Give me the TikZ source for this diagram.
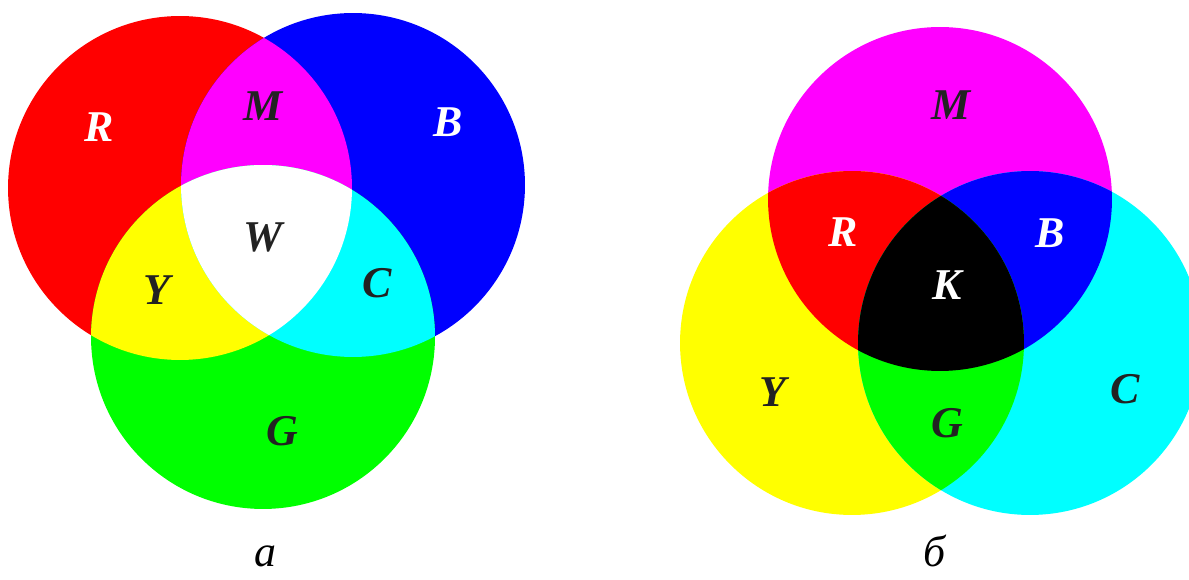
\documentclass[tikz,border=0pt]{standalone}
\usepackage{fontspec}
\setmainfont{Liberation Serif}
\usepackage{xcolor}
\usepackage{tikz}
\usetikzlibrary{positioning}
\definecolor{cRed}{RGB}{255,0,0}
\definecolor{cGreen}{RGB}{0,255,0}
\definecolor{cBlue}{RGB}{0,0,255}
\definecolor{cCyan}{RGB}{0,255,255}
\definecolor{cMagenta}{RGB}{255,0,255}
\definecolor{cYellow}{RGB}{255,255,0}
\definecolor{cDark}{RGB}{34,34,34}
\tikzset{
	lbl/.style={font=\fontsize{25}{30}\selectfont\bfseries\itshape, text=cDark, anchor=base, inner sep=0pt},
	lblw/.style={lbl, text=white},
	capt/.style={font=\fontsize{25}{30}\selectfont\itshape, text=black, anchor=base, inner sep=0pt}
}

\begin{document}
\begin{tikzpicture}[x=0.02cm, y=-0.02cm]
		\useasboundingbox (0,0) rectangle (1189,580);
		\def\rr{3.44cm}
		\coordinate (Rc) at (180,188);
		\coordinate (Bc) at (353,185);
		\coordinate (Gc) at (263,337);
		\coordinate (Mc) at (940,199);
		\coordinate (Yc) at (852,343);
		\coordinate (Cc) at (1030,343);
		% 加色混合 (a)
		\fill[cRed] (Rc) circle (\rr);
		\fill[cBlue] (Bc) circle (\rr);
		\fill[cGreen] (Gc) circle (\rr);
		\begin{scope}
			\clip (Rc) circle (\rr);
			\fill[cMagenta] (Bc) circle (\rr);
			\fill[cYellow] (Gc) circle (\rr);
		\end{scope}
		\begin{scope}
			\clip (Bc) circle (\rr);
			\fill[cCyan] (Gc) circle (\rr);
		\end{scope}
		\begin{scope}
			\clip (Rc) circle (\rr);
			\clip (Bc) circle (\rr);
			\fill[white] (Gc) circle (\rr);
		\end{scope}
		% 减色混合 (б)
		\fill[cMagenta] (Mc) circle (\rr);
		\fill[cYellow] (Yc) circle (\rr);
		\fill[cCyan] (Cc) circle (\rr);
		\begin{scope}
			\clip (Mc) circle (\rr);
			\fill[cRed] (Yc) circle (\rr);
			\fill[cBlue] (Cc) circle (\rr);
		\end{scope}
		\begin{scope}
			\clip (Yc) circle (\rr);
			\fill[cGreen] (Cc) circle (\rr);
		\end{scope}
		\begin{scope}
			\clip (Mc) circle (\rr);
			\clip (Yc) circle (\rr);
			\fill[black] (Cc) circle (\rr);
		\end{scope}
		% 标字 (a)
		\node[lblw] (aR) at (99,142) {R};
		\node[lbl] (aM) at (263,121) {M};
		\node[lblw] (aB) at (448,137) {B};
		\node[lbl] (aW) at (263,252) {W};
		\node[lbl] (aY) at (157,305) {Y};
		\node[lbl] (aC) at (377,298) {C};
		\node[lbl] (aG) at (282,445) {G};
		% 标字 (б)
		\node[lbl] (bM) at (951,120) {M};
		\node[lblw] (bR) at (843,247) {R};
		\node[lblw] (bB) at (1050,248) {B};
		\node[lblw] (bK) at (947,300) {K};
		\node[lbl] (bY) at (773,407) {Y};
		\node[lbl] (bC) at (1125,403) {C};
		\node[lbl] (bG) at (947,438) {G};
		% 图题
		\node[capt] (capA) at (265,566) {а};
		\node[capt] (capB) at (935,566) {б};
	\end{tikzpicture}
\end{document}
